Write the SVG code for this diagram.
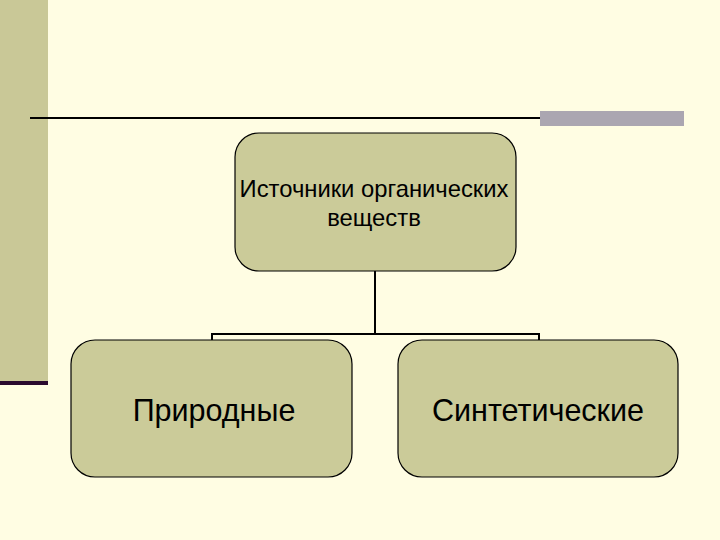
<svg xmlns="http://www.w3.org/2000/svg" width="720" height="540" viewBox="0 0 720 540">
<style>
.node{fill:#CBCB99;stroke:#000;stroke-width:1.2}
.t{font-family:"Liberation Sans",Arial,sans-serif;fill:#000;text-anchor:middle}
.c{stroke:#000;stroke-width:2;fill:none}
</style>
<rect width="720" height="540" fill="#FFFDE3"/>
<rect x="0" y="0" width="48" height="382" fill="#C9C897"/>
<rect x="0" y="381" width="48" height="4" fill="#2A0A2E"/>
<rect x="540" y="111" width="144" height="15" fill="#ABA6B1"/>
<line x1="30" y1="118" x2="540" y2="118" stroke="#000" stroke-width="2"/>
<g id="connectors">
<path class="c" d="M375 271 V334 M212 341 V334 H539 V341"/>
</g>
<g id="n-top">
<rect class="node" x="235" y="133" width="281" height="138" rx="24"/>
<text class="t" x="374" y="197" font-size="23.8">Источники органических</text>
<text class="t" x="374" y="226" font-size="23.8">веществ</text>
</g>
<g id="n-natural">
<rect class="node" x="71" y="340" width="281" height="137" rx="24"/>
<text class="t" x="214" y="421" font-size="30.5">Природные</text>
</g>
<g id="n-synthetic">
<rect class="node" x="398" y="340" width="280" height="137" rx="24"/>
<text class="t" x="538" y="421" font-size="30.5">Синтетические</text>
</g>
</svg>
